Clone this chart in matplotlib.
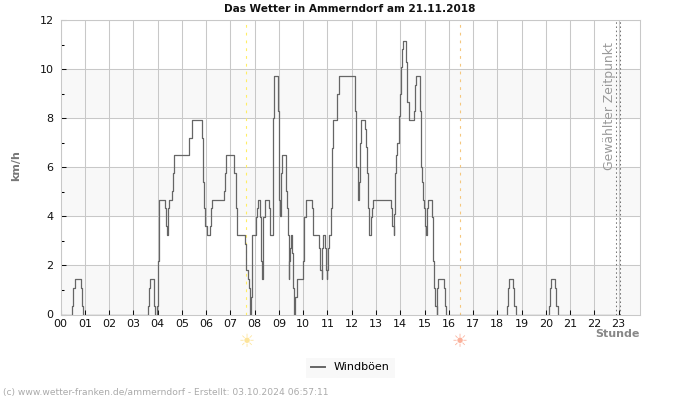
import matplotlib
matplotlib.use('Agg')
import matplotlib.pyplot as plt

# Windboeen, gelesen aus dem Bild: Zeitpunkt des Wechsels (Stunde) und neuer Wert (km/h)
GUST_HOURS = [0.00, 0.49, 0.53, 0.58, 0.84, 0.90, 0.93, 3.60, 3.65, 3.68, 3.84, 3.87, 3.89,
              3.98, 4.00, 4.04, 4.07, 4.32, 4.36, 4.39, 4.44, 4.48, 4.58, 4.62, 4.66,
              5.31, 5.41, 5.82, 5.87, 5.92, 5.97, 6.02, 6.16, 6.20, 6.25, 6.75, 6.79, 6.83,
              7.16, 7.22, 7.26, 7.59, 7.63, 7.66, 7.72, 7.75, 7.80, 7.82, 7.85, 7.88, 7.90,
              8.04, 8.10, 8.15, 8.23, 8.26, 8.29, 8.33, 8.34, 8.41, 8.58, 8.63, 8.74, 8.81,
              8.97, 9.00, 9.04, 9.09, 9.13, 9.30, 9.35, 9.37, 9.40, 9.43, 9.46, 9.50, 9.54,
              9.58, 9.62, 9.67, 9.73, 10.00, 10.05, 10.11, 10.36, 10.42, 10.66, 10.69, 10.76,
              10.79, 10.83, 10.91, 10.94, 10.97, 10.99, 11.02, 11.06, 11.14, 11.19, 11.23,
              11.40, 11.47, 12.15, 12.19, 12.26, 12.30, 12.35, 12.39, 12.56, 12.59, 12.63,
              12.67, 12.71, 12.80, 12.85, 12.89, 13.63, 13.67, 13.73, 13.75, 13.78, 13.81,
              13.86, 13.93, 13.97, 14.02, 14.06, 14.10, 14.25, 14.28, 14.36, 14.58, 14.61,
              14.65, 14.83, 14.85, 14.88, 14.92, 14.98, 15.02, 15.06, 15.10, 15.14, 15.32,
              15.35, 15.39, 15.43, 15.50, 15.51, 15.56, 15.81, 15.85, 15.90, 18.41, 18.45,
              18.49, 18.66, 18.70, 18.75, 20.14, 20.18, 20.22, 20.39, 20.43, 20.50, 23.00]
GUST_KMH = [0, 0.36, 1.08, 1.44, 1.08, 0.36, 0, 0.36, 1.08, 1.44, 1.08, 0.36, 0,
            0.36, 2.16, 3.96, 4.68, 4.32, 3.6, 3.24, 4.32, 4.68, 5.04, 5.76, 6.48,
            7.2, 7.92, 7.2, 5.4, 4.32, 3.6, 3.24, 3.6, 4.32, 4.68, 5.04, 5.76, 6.48,
            5.76, 4.32, 3.24, 2.88, 2.52, 1.8, 1.44, 1.08, 0.72, 0, 0.72, 2.52, 3.24,
            3.96, 4.32, 4.68, 3.96, 2.16, 1.44, 2.16, 3.96, 4.68, 4.32, 3.24, 8.0, 9.72,
            8.28, 4.68, 4.0, 5.76, 6.48, 5.04, 4.32, 3.24, 1.44, 2.16, 2.7, 3.24, 2.52,
            1.08, 0, 0.72, 1.44, 2.16, 3.96, 4.68, 4.32, 3.24, 2.7, 1.8, 1.44,
            2.7, 3.24, 2.7, 1.8, 1.44, 1.8, 2.7, 3.24, 4.32, 6.8, 7.92,
            9.0, 9.72, 8.28, 6.0, 4.68, 5.4, 7.0, 7.92, 7.56, 6.84, 5.76,
            4.32, 3.24, 3.96, 4.32, 4.68, 4.32, 3.6, 3.24, 4.1, 5.76, 6.48,
            7.0, 8.1, 9.0, 10.08, 10.8, 11.16, 10.3, 8.64, 7.92, 8.28, 9.36,
            9.72, 8.28, 6.0, 5.4, 4.68, 4.32, 3.6, 3.24, 4.32, 4.68, 3.96,
            2.16, 1.08, 0.36, 0, 1.08, 1.44, 1.08, 0.36, 0, 0.36, 1.08,
            1.44, 1.08, 0.36, 0, 0.36, 1.08, 1.44, 1.08, 0.36, 0, 0]
HOUR_LABELS = ['%02d' % h for h in range(24)]
Y_LABELS = [0, 2, 4, 6, 8, 10, 12]
BANDS = [(0, 2), (4, 6), (8, 10)]
SUNRISE = 7.66
SUNSET = 16.46
SELECTED = [22.9, 23.05]
X_MAX = 23.88

GRID = '#c8c8c8'
W, H = 700, 400

fig = plt.figure(figsize=(7, 4), dpi=100)
ax = fig.add_axes([60.5/W, 1 - 314.5/H, (640 - 60.5)/W, (314.5 - 20.0)/H])
ax.set_xlim(0, X_MAX)
ax.set_ylim(0, 12)

for low, high in BANDS:
    ax.axhspan(low, high, color='#f8f8f8', lw=0, zorder=0)
ax.grid(True, which='major', color=GRID, lw=0.75, zorder=1)
ax.set_axisbelow(True)

ax.axvline(SUNRISE, color='#ffee66', lw=0.8, ls=(0, (2.5, 4.5)), zorder=2)
ax.axvline(SUNSET, color='#f5c77e', lw=0.8, ls=(0, (2.5, 4.5)), zorder=2)
for s in SELECTED:
    ax.axvline(s, color='#777777', lw=0.75, ls=(0, (1.5, 2.5)), zorder=2)

line, = ax.plot(GUST_HOURS, GUST_KMH, drawstyle='steps-post', color='#666666', lw=0.9,
                label='Windböen', zorder=3)

ax.set_xticks(range(24))
ax.set_xticklabels(HOUR_LABELS)
ax.set_yticks(Y_LABELS)
ax.set_yticks(range(1, 12, 2), minor=True)
ax.tick_params(axis='x', which='major', direction='in', length=3.6, width=0.75, pad=3.5,
               labelsize=8, colors='#111111')
ax.tick_params(axis='y', which='major', direction='in', length=3.6, width=0.75, pad=5,
               labelsize=8, colors='#111111')
ax.tick_params(axis='y', which='minor', direction='in', length=2.2, width=0.75)
ax.grid(False, which='minor')

for side in ax.spines:
    ax.spines[side].set_color(GRID)
    ax.spines[side].set_linewidth(0.75)
    ax.spines[side].set_zorder(5)

fig.text(349.5/W, 1 - 9/H, 'Das Wetter in Ammerndorf am 21.11.2018', ha='center', va='center',
         fontsize=7.6, fontweight='bold', color='#111111')
fig.text(16/W, 1 - 166/H, 'km/h', rotation=90, ha='center', va='center',
         fontsize=8, fontweight='bold', color='#777777')
fig.text(640/W, 1 - 334/H, 'Stunde', ha='right', va='center',
         fontsize=8, fontweight='bold', color='#888888')
fig.text(609/W, 1 - 106.5/H, 'Gewählter Zeitpunkt', rotation=90, ha='center', va='center',
         fontsize=8.9, color='#999999')
fig.text(3/W, 1 - 393/H, '(c) www.wetter-franken.de/ammerndorf - Erstellt: 03.10.2024 06:57:11',
         ha='left', va='center', fontsize=6.6, color='#aaaaaa')

# Sonnensymbole unter der Achse
sun_y = -28/295*12
ax.text(SUNRISE, sun_y, '☀', ha='center', va='center', fontsize=13, color='#fde49a', clip_on=False)
ax.text(SUNSET, sun_y, '☀', ha='center', va='center', fontsize=13, color='#fbb09a', clip_on=False)

leg = fig.legend(handles=[line], loc='center', bbox_to_anchor=(350.5/W, 1 - 367.5/H), fontsize=8,
                 frameon=True, fancybox=False, facecolor='#f8f8f8', edgecolor='none', framealpha=1,
                 handlelength=1.2, handletextpad=0.8, borderpad=0.45)
leg.get_lines()[0].set_linewidth(1.4)

fig.savefig('out.png', dpi=100)
